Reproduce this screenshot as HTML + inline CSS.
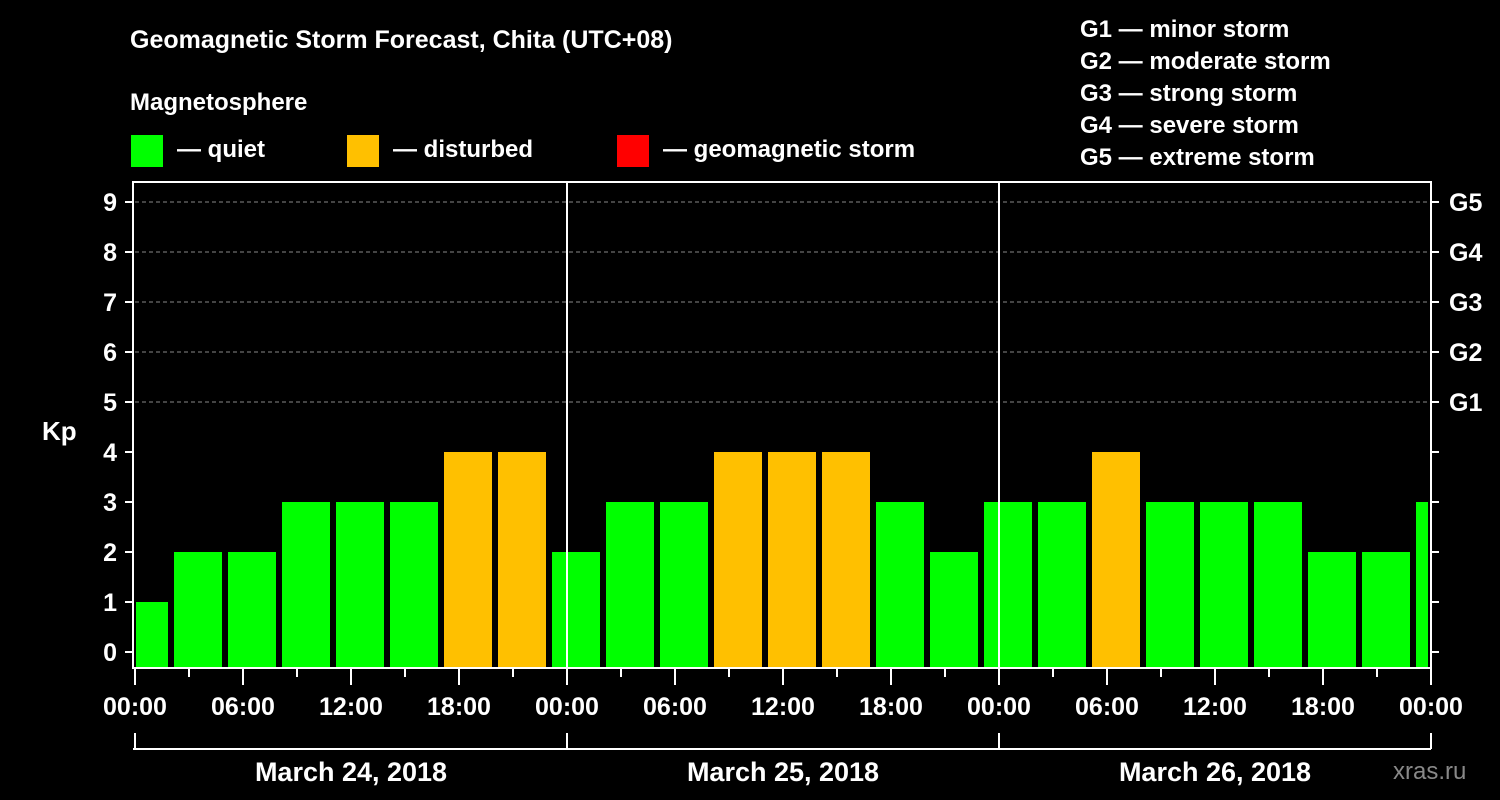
<!DOCTYPE html>
<html><head><meta charset="utf-8"><style>
html,body{margin:0;padding:0;background:#000;}
svg{display:block;font-family:"Liberation Sans",Arial,sans-serif;font-weight:bold;}
</style></head><body>
<svg width="1500" height="800" viewBox="0 0 1500 800">
<rect width="1500" height="800" fill="#000"/>
<text x="130" y="48" fill="#fff" font-size="25">Geomagnetic Storm Forecast, Chita (UTC+08)</text>
<text x="130" y="110" fill="#fff" font-size="24">Magnetosphere</text>
<g><rect x="131" y="135" width="32" height="32" fill="#00ff00"/><text x="177" y="157" fill="#fff" font-size="24">— quiet</text></g>
<g><rect x="347" y="135" width="32" height="32" fill="#ffc000"/><text x="393" y="157" fill="#fff" font-size="24">— disturbed</text></g>
<g><rect x="617" y="135" width="32" height="32" fill="#ff0000"/><text x="663" y="157" fill="#fff" font-size="24">— geomagnetic storm</text></g>
<g fill="#fff" font-size="24">
<text x="1080" y="37">G1 — minor storm</text>
<text x="1080" y="69">G2 — moderate storm</text>
<text x="1080" y="101">G3 — strong storm</text>
<text x="1080" y="133">G4 — severe storm</text>
<text x="1080" y="165">G5 — extreme storm</text>
</g>
<text x="42" y="440" fill="#fff" font-size="26">Kp</text>
<text x="1393" y="779" fill="#888" font-size="24" font-weight="normal">xras.ru</text>
<g id="plot"></g>
</svg>
<script>
const barStartHours = [-1, 2, 5, 8, 11, 14, 17, 20, 23, 26, 29, 32, 35, 38, 41, 44, 47, 50, 53, 56, 59, 62, 65, 68, 71];
const kpValues = [1, 2, 2, 3, 3, 3, 4, 4, 2, 3, 3, 4, 4, 4, 3, 2, 3, 3, 4, 3, 3, 3, 2, 2, 3];
const yTicks = [0,1,2,3,4,5,6,7,8,9];
const gLabels = ["G1","G2","G3","G4","G5"];
const xTickLabels = ["00:00","06:00","12:00","18:00","00:00","06:00","12:00","18:00","00:00","06:00","12:00","18:00","00:00"];
const dayLabels = ["March 24, 2018","March 25, 2018","March 26, 2018"];

const L=135,R=1431,T=182,B=668,HOURS=72;
const x=h=>L+(h/HOURS)*(R-L);
const y=v=>652-50*v;
const NS="http://www.w3.org/2000/svg";
const g=document.getElementById('plot');
function mk(tag,at,txt){const e=document.createElementNS(NS,tag);for(const k in at)e.setAttribute(k,at[k]);if(txt!==undefined)e.textContent=txt;g.appendChild(e);return e;}

// grid lines
for(let v=5;v<=9;v++){const e=mk('line',{x1:L,x2:R,y1:y(v),y2:y(v),stroke:'#888','stroke-dasharray':'4,3','stroke-width':1});

}
// bars
barStartHours.forEach((h,i)=>{
  const v=kpValues[i];
  let x1=Math.max(x(h)+3,L+1), x2=Math.min(x(h+3)-3,R-3);
  const e=mk('rect',{x:x1,y:y(v),width:x2-x1,height:B-y(v),fill:v>=5?'#ff0000':(v>=4?'#ffc000':'#00ff00')});
  
  
});
// day separators
[24,48].forEach(h=>{const e=mk('line',{x1:x(h),x2:x(h),y1:T,y2:B,stroke:'#fff','stroke-width':2});

});
// frame
const fr=mk('rect',{x:L-2,y:T,width:R-L+2,height:B-T,fill:'none',stroke:'#fff','stroke-width':2});


// y ticks
yTicks.forEach(v=>{
  mk('line',{x1:L-10,x2:L-2,y1:y(v),y2:y(v),stroke:'#fff','stroke-width':2});
  mk('line',{x1:R,x2:R+8,y1:y(v),y2:y(v),stroke:'#fff','stroke-width':2});
  const t=mk('text',{x:L-18,y:y(v)+9,fill:'#fff','font-size':25,'text-anchor':'end'},String(v));
  
  
});
gLabels.forEach((s,i)=>{const t=mk('text',{x:R+18,y:y(5+i)+9,fill:'#fff','font-size':25},s);

});
// x ticks
for(let h=0;h<=HOURS;h+=3){const major=h%6===0;mk('line',{x1:x(h),x2:x(h),y1:B,y2:B+(major?17:9),stroke:'#fff','stroke-width':2});}
xTickLabels.forEach((s,i)=>{const t=mk('text',{x:x(i*6),y:715,fill:'#fff','font-size':25,'text-anchor':'middle'},s);

});
// date bracket
mk('line',{x1:L-2,x2:R,y1:749,y2:749,stroke:'#fff','stroke-width':2});
[0,24,48,72].forEach(h=>mk('line',{x1:x(h),x2:x(h),y1:733,y2:749,stroke:'#fff','stroke-width':2}));
dayLabels.forEach((s,i)=>{const t=mk('text',{x:x(i*24+12),y:781,fill:'#fff','font-size':27,'text-anchor':'middle'},s);

});
</script>
</body></html>
